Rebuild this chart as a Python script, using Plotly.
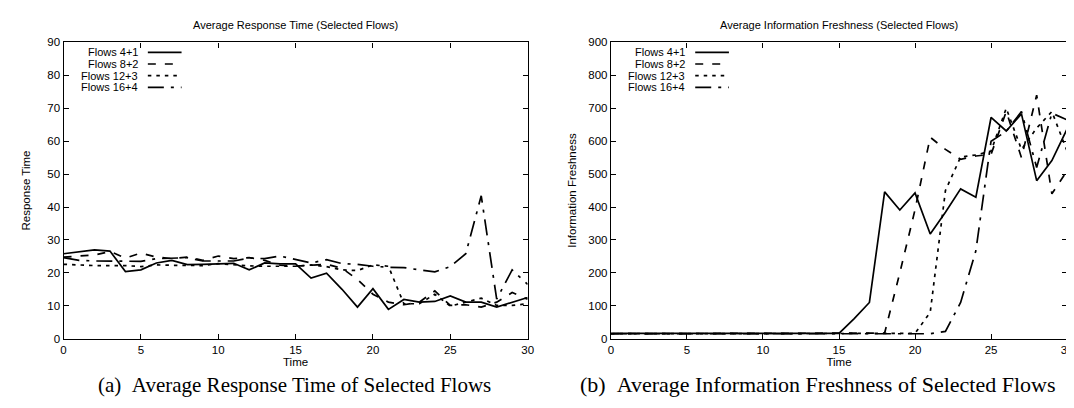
import plotly.graph_objects as go

time = list(range(31))

series_names = ["Flows 4+1", "Flows 8+2", "Flows 12+3", "Flows 16+4"]

rt_4_1 = [25.8, 26.5, 27.0, 26.6, 20.4, 20.9, 23.0, 23.8, 22.5, 22.6, 22.7, 22.9, 20.9, 23.0, 22.7, 22.7,
          18.4, 19.9, 15.0, 9.6, 15.2, 8.9, 11.9, 11.1, 11.3, 13.0, 11.1, 11.1, 9.6, 11.1, 12.5]
rt_8_2 = [24.8, 25.2, 25.4, 26.5, 24.5, 26.0, 24.8, 24.3, 24.8, 23.8, 25.1, 24.3, 24.6, 23.8, 22.3, 22.0,
          22.2, 22.6, 21.4, 18.0, 13.5, 11.1, 10.3, 11.1, 14.5, 10.1, 10.3, 9.6, 11.1, 14.0, 12.0]
rt_12_3 = [22.6, 22.3, 22.2, 22.2, 22.2, 21.9, 22.4, 22.3, 22.2, 22.2, 22.8, 22.4, 22.1, 22.0, 22.0, 22.0,
           22.4, 21.9, 20.9, 20.7, 22.4, 22.0, 10.6, 10.6, 13.5, 9.9, 11.1, 12.3, 10.1, 10.1, 10.6]
rt_16_4 = [24.6, 23.8, 23.6, 23.6, 23.6, 23.5, 24.3, 24.5, 24.6, 23.6, 23.5, 23.6, 24.5, 24.3, 25.1, 24.0,
           23.0, 24.0, 22.8, 22.6, 22.0, 21.7, 21.6, 20.9, 20.3, 21.9, 25.8, 43.4, 12.0, 20.9, 16.5]

if_4_1 = [16, 16, 16, 17, 15, 16, 16, 16, 16, 16, 16, 16, 15, 15, 15, 16,
          61, 110, 446, 391, 443, 318, 384, 455, 430, 672, 631, 683, 480, 541, 637]
if_8_2 = [15, 15, 16, 16, 15, 16, 15, 15, 15, 15, 15, 15, 15, 15, 15, 15,
          15, 16, 17, 200, 392, 612, 575, 545, 555, 560, 690, 550, 740, 440, 510]
if_12_3 = [15, 15, 15, 15, 15, 15, 15, 15, 15, 15, 15, 15, 15, 15, 15, 15,
           15, 15, 15, 15, 16, 80, 450, 552, 558, 570, 700, 575, 640, 690, 570]
if_16_4 = [15, 15, 15, 15, 15, 15, 15, 15, 15, 15, 15, 15, 15, 15, 15, 15,
           15, 15, 15, 15, 15, 15, 22, 110, 267, 600, 630, 690, 520, 685, 665]

rt_series = [rt_4_1, rt_8_2, rt_12_3, rt_16_4]
if_series = [if_4_1, if_8_2, if_12_3, if_16_4]

dashes = ["solid", "8px,9px", "3.5px,5px", "16px,7px,3px,7px"]

FONT = "Liberation Sans"
W, H = 1074, 408

x1 = [53 / W, 521 / W]
x2 = [605 / W, 1065 / W]
ydom = [1 - 334.5 / H, 1 - 29.3 / H]

fig = go.Figure()
for vals, d, name in zip(rt_series, dashes, series_names):
    fig.add_trace(go.Scatter(x=time, y=vals, mode="lines", name=name, xaxis="x", yaxis="y",
                             line=dict(color="black", width=1.7, dash=d), showlegend=False))
for vals, d, name in zip(if_series, dashes, series_names):
    fig.add_trace(go.Scatter(x=time, y=vals, mode="lines", name=name, xaxis="x2", yaxis="y2",
                             line=dict(color="black", width=1.7, dash=d), showlegend=False))

axis_common = dict(showline=True, linecolor="black", linewidth=1.2, mirror="allticks",
                   ticks="inside", ticklen=5, tickcolor="black", showgrid=False, zeroline=False,
                   ticklabeloverflow="allow",
                   tickfont=dict(family=FONT, size=11.5, color="black"))
tfont = dict(family=FONT, size=11.5, color="black")

fig.update_layout(
    width=W, height=H,
    margin=dict(l=0, r=0, t=0, b=0),
    paper_bgcolor="white", plot_bgcolor="white",
    xaxis=dict(domain=x1, range=[0, 30], dtick=5, anchor="y",
               title=dict(text="Time", font=tfont, standoff=3), **axis_common),
    yaxis=dict(domain=ydom, range=[0, 90], dtick=10, anchor="x",
               title=dict(text="Response Time", font=tfont, standoff=14), **axis_common),
    xaxis2=dict(domain=x2, range=[0, 30], dtick=5, anchor="y2",
                title=dict(text="Time", font=tfont, standoff=3), **axis_common),
    yaxis2=dict(domain=ydom, range=[0, 900], dtick=100, anchor="x2",
                title=dict(text="Information Freshness", font=tfont, standoff=9), **axis_common),
)

annotations = []
shapes = []

titles = ["Average Response Time (Selected Flows)", "Average Information Freshness (Selected Flows)"]
captions = ["(a)\u00a0\u00a0Average Response Time of Selected Flows",
            "(b)\u00a0\u00a0Average Information Freshness of Selected Flows"]
caption_x = [286 / W, 814 / W]
caption_size = [21, 22]
for dom, t, c, cx, cs in zip([x1, x2], titles, captions, caption_x, caption_size):
    annotations.append(dict(text=t, x=(dom[0] + dom[1]) / 2, y=1 - 11.5 / H, xref="paper", yref="paper",
                            showarrow=False, font=dict(family=FONT, size=11, color="black"),
                            xanchor="center", yanchor="middle"))
    annotations.append(dict(text=c, x=cx, y=1 - 382 / H, xref="paper", yref="paper",
                            showarrow=False, font=dict(family="Liberation Serif", size=cs, color="black"),
                            xanchor="center", yanchor="middle"))

# gnuplot-style key: right-aligned label with line sample to its right
rows_y = [39.5, 51.5, 63.5, 75.5]
for dom in [x1, x2]:
    ax0 = dom[0] * W
    for name, d, ry in zip(series_names, dashes, rows_y):
        annotations.append(dict(text=name, x=(ax0 + 76) / W, y=1 - ry / H, xref="paper", yref="paper",
                                showarrow=False, font=dict(family=FONT, size=11, color="black"),
                                xanchor="right", yanchor="middle", borderpad=0))
        shapes.append(dict(type="line", xref="paper", yref="paper",
                           x0=(ax0 + 85) / W, x1=(ax0 + 119) / W, y0=1 - ry / H, y1=1 - ry / H,
                           line=dict(color="black", width=1.7, dash=d)))

fig.update_layout(annotations=annotations, shapes=shapes)

fig.write_html("out.html")
